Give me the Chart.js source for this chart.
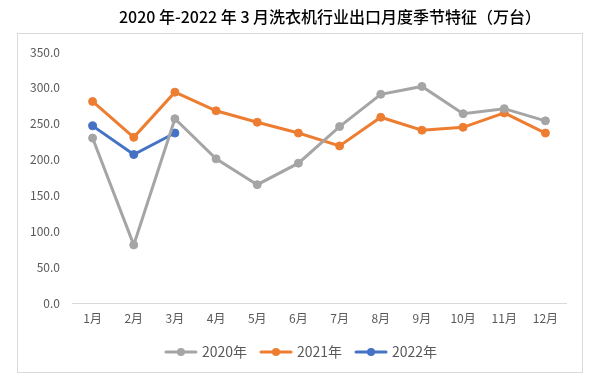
<!DOCTYPE html>
<html>
<head>
<meta charset="utf-8">
<script src="https://cdn.jsdelivr.net/npm/chart.js@4/dist/chart.umd.min.js"></script>
<style>
html,body{margin:0;padding:0;background:#fff;}
#wrap{position:relative;width:600px;height:381px;}
#box{position:absolute;left:17px;top:33px;width:566px;height:340px;border:1px solid #d9d9d9;box-sizing:border-box;}
canvas{position:absolute;left:0;top:0;}
</style>
</head>
<body>
<div id="wrap"><div id="box"></div><canvas id="c" width="600" height="381"></canvas></div>
<script>
const titleText = '2020 年-2022 年 3 月洗衣机行业出口月度季节特征（万台）';
const months = ['1月','2月','3月','4月','5月','6月','7月','8月','9月','10月','11月','12月'];
const seriesNames = ['2020年','2021年','2022年'];
const y2020 = [230, 81, 257, 201, 165, 195, 246, 291, 302, 264, 271, 254];
const y2021 = [281, 231, 294, 268, 252, 237, 219, 259, 241, 245, 265, 237];
const y2022 = [247, 207, 237];
const colors = ['#A5A5A5','#ED7D31','#4472C4'];

function legendIcon(color){
  const cv = document.createElement('canvas');
  cv.width = 34; cv.height = 10;
  const g = cv.getContext('2d');
  g.strokeStyle = color; g.lineWidth = 3; g.lineCap = 'round';
  g.beginPath(); g.moveTo(2,5); g.lineTo(32,5); g.stroke();
  g.fillStyle = color; g.beginPath(); g.arc(17,5,4,0,Math.PI*2); g.fill();
  return cv;
}

const font = "'Noto Sans CJK SC', 'Noto Sans', sans-serif";
const mk = (label, data, color) => ({
  label, data, borderColor: color, backgroundColor: color,
  borderWidth: 3, pointRadius: 4, pointHoverRadius: 4, pointBorderWidth: 1,
  pointBackgroundColor: color, pointBorderColor: color, tension: 0,
  pointStyle: 'circle'
});

const titlePlugin = {
  id: 'customTitle',
  afterLayout(chart) {
    if (chart.legend) { chart.legend.left += 10; chart.legend.right += 10; }
  },
  afterDraw(chart) {
    const ctx = chart.ctx;
    ctx.save();
    ctx.font = "500 16px " + font;
    ctx.fillStyle = '#000';
    ctx.textAlign = 'center';
    ctx.textBaseline = 'middle';
    ctx.fillText(titleText, 330, 17);
    ctx.restore();
  }
};

new Chart(document.getElementById('c'), {
  type: 'line',
  data: {
    labels: months,
    datasets: [mk(seriesNames[0], y2020, colors[0]), mk(seriesNames[1], y2021, colors[1]), mk(seriesNames[2], y2022, colors[2])]
  },
  plugins: [titlePlugin],
  options: {
    responsive: false,
    animation: false,
    layout: { padding: { left: 18, right: 34, top: 52, bottom: 12 } },
    plugins: {
      title: { display: false },
      legend: {
        position: 'bottom',
        labels: {
          color: '#595959',
          font: { family: font, size: 14 },
          usePointStyle: true,
          pointStyleWidth: 28,
          padding: 15,
          generateLabels: (chart) => chart.data.datasets.map((ds, i) => ({
            text: ds.label, fillStyle: colors[i], strokeStyle: colors[i],
            pointStyle: legendIcon(colors[i]), datasetIndex: i, hidden: false, fontColor: '#595959'
          }))
        }
      },
      tooltip: { enabled: false }
    },
    scales: {
      x: {
        offset: true,
        grid: { display: false, drawTicks: false },
        border: { display: true, color: '#d9d9d9', width: 1 },
        ticks: { color: '#595959', font: { family: font, size: 12 }, padding: 8 },
        afterFit: (s) => { s.height = 27; }
      },
      y: {
        min: 0, max: 350,
        grid: { display: false, drawTicks: false },
        border: { display: false },
        ticks: { stepSize: 50, color: '#595959', font: { family: font, size: 12 }, padding: 12,
          callback: (v) => Number(v).toFixed(1) },
        afterFit: (s) => { s.width = 54; }
      }
    }
  }
});
</script>
</body>
</html>
